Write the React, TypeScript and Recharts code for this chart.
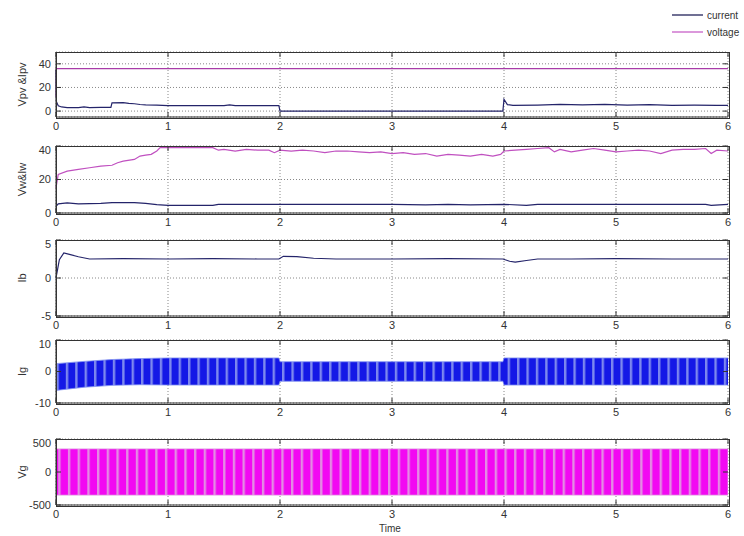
import { ComposedChart, Line, Area, XAxis, YAxis, CartesianGrid } from 'recharts';

const xTicks = [0, 1, 2, 3, 4, 5, 6];

// Vpv & Ipv
const pvTime = [0, 0.004, 0.02, 0.05, 0.1, 0.2, 0.25, 0.3, 0.4, 0.49, 0.5, 0.6, 0.65, 0.7, 0.75, 0.8, 0.9, 1.0, 1.5, 1.55, 1.6, 1.99, 2.0, 3.99, 4.0, 4.03, 4.08, 4.3, 4.5, 4.7, 4.9, 5.1, 5.3, 5.5, 5.7, 5.9, 6.0];
const pvCurrent = [35, 8, 4.5, 3.5, 3.0, 3.0, 3.6, 3.0, 3.2, 3.2, 7.0, 7.2, 6.5, 6.2, 5.6, 5.2, 5.0, 4.6, 4.6, 5.2, 4.6, 4.6, 0, 0, 10, 5.5, 4.8, 5.0, 5.6, 5.2, 5.6, 5.0, 5.4, 4.8, 5.0, 4.8, 4.8];
const pvVoltTime = [0, 0.003, 6];
const pvVoltage = [12, 36, 36];

// Vw & Iw
const wVoltTime = [0, 0.02, 0.1, 0.2, 0.3, 0.4, 0.5, 0.55, 0.6, 0.7, 0.75, 0.8, 0.85, 0.9, 0.93, 1.0, 1.4, 1.45, 1.5, 1.6, 1.7, 1.8, 1.9, 1.95, 2.0, 2.1, 2.2, 2.3, 2.4, 2.5, 2.6, 2.7, 2.8, 2.9, 3.0, 3.1, 3.2, 3.3, 3.4, 3.5, 3.6, 3.7, 3.8, 3.9, 3.97, 4.0, 4.1, 4.2, 4.3, 4.4, 4.45, 4.5, 4.6, 4.7, 4.8, 4.9, 5.0, 5.1, 5.2, 5.3, 5.4, 5.5, 5.6, 5.7, 5.8, 5.85, 5.9, 6.0];
const wVoltage = [15, 23, 25, 26, 27, 28, 28.5, 30, 31, 32, 34, 34.5, 35, 37, 39, 39, 39, 37.5, 38, 37, 38, 37.5, 37.5, 36, 37.5, 37, 37.5, 37, 36, 37, 37, 36.5, 36, 36.5, 35.5, 36, 35, 35.5, 34, 35, 34.5, 34, 35, 34, 35, 37, 37.5, 38, 38.5, 39, 36.5, 38, 36.5, 37.5, 38.5, 37.5, 36.5, 37, 37.5, 37, 35.5, 37.5, 38, 38, 38.5, 35.5, 37.5, 37];
const wCurrTime = [0, 0.02, 0.1, 0.2, 0.4, 0.5, 0.7, 0.8, 0.9, 1.0, 1.4, 1.45, 2.0, 2.5, 3.0, 3.3, 3.5, 3.7, 4.0, 4.2, 4.3, 5.0, 5.8, 5.85, 6.0];
const wCurrent = [4, 5.5, 6, 5.5, 5.8, 6.2, 6.2, 5.8, 5, 4.6, 4.6, 5.2, 5.2, 5.2, 5.2, 4.8, 5.2, 4.8, 5.2, 4.5, 5.2, 5.2, 5.2, 4.6, 5.2];

// Ib
const ibTime = [0, 0.03, 0.07, 0.12, 0.2, 0.3, 0.6, 1.0, 1.4, 1.8, 1.99, 2.03, 2.15, 2.3, 2.5, 3.0, 3.5, 3.99, 4.05, 4.1, 4.2, 4.3, 4.6, 5.0, 5.5, 6.0];
const ib = [0, 2.4, 3.3, 3.1, 2.8, 2.5, 2.55, 2.5, 2.55, 2.5, 2.5, 2.85, 2.8, 2.6, 2.5, 2.5, 2.55, 2.5, 2.2, 2.1, 2.3, 2.5, 2.5, 2.55, 2.5, 2.5];

// Ig envelope (oscillation band)
const igTime = [0, 0.25, 0.5, 0.75, 1.0, 1.99, 2.0, 3.99, 4.0, 6.0];
const igHigh = [2.5, 3.2, 3.8, 4.1, 4.3, 4.3, 3.1, 3.1, 4.3, 4.3];
const igLow = [-6, -5, -4.4, -4.2, -4.3, -4.3, -3.1, -3.1, -4.3, -4.3];

// Vg envelope
const vgTime = [0, 6];
const vgHigh = [350, 350];
const vgLow = [-350, -350];

const rows = (t: number[], v: number[]) => t.map((x, i) => ({ t: x, v: v[i] }));
const bandRows = (t: number[], lo: number[], hi: number[]) => t.map((x, i) => ({ t: x, band: [lo[i], hi[i]] }));

const FONT = '"Liberation Sans Narrow", "Liberation Sans", Arial, sans-serif';
const tickStyle = { fill: '#333', fontSize: 11, fontFamily: FONT };
const PLOT_L = 56;
const PLOT_W = 672;

const frameLine = (key: string, data: any[]) => (
  <Line key={key} type="linear" data={data} dataKey="v" stroke="#333" strokeWidth={1} dot={false}
    isAnimationActive={false} legendType="none" />
);

function Panel({ top, height, domain, ticks, label, children }: any) {
  const [lo, hi] = domain;
  const dy = (5 / height) * (hi - lo); // 5px inward tick, in data units
  const dx = (5 / PLOT_W) * 6;
  return (
    <>
      <div style={{ position: 'absolute', left: 0, top: top - 2 }}>
        <ComposedChart width={744} height={height + 18} margin={{ top: 2, right: 16, bottom: 0, left: 14 }}>
          <defs>
            <pattern id="igStripes" patternUnits="userSpaceOnUse" width="9.4" height="4">
              <rect width="9.4" height="4" fill="#1418e6" />
              <rect x="0" width="2.4" height="4" fill="#7d88ee" />
            </pattern>
            <pattern id="vgStripes" patternUnits="userSpaceOnUse" width="9.7" height="4">
              <rect width="9.7" height="4" fill="#f208f2" />
              <rect x="0" width="2.4" height="4" fill="#e38be3" />
            </pattern>
          </defs>
          <CartesianGrid stroke="#888" strokeDasharray="1 2" />
          <XAxis type="number" dataKey="t" domain={[0, 6]} ticks={xTicks}
            height={16} tickSize={-5} tickMargin={10} tickLine={false} stroke="#333" tick={tickStyle} />
          <YAxis type="number" domain={domain} ticks={ticks} width={42}
            tickSize={-5} tickMargin={10} tickLine={false} stroke="#333" tick={tickStyle}
            label={{ value: label, angle: -90, position: 'insideLeft', offset: 8, style: { textAnchor: 'middle', fill: '#333', fontSize: 11, fontFamily: FONT } }} />
          {children}
          {xTicks.map((t) => frameLine('tt' + t, [{ t, v: hi }, { t, v: hi - dy }]))}
          {xTicks.map((t) => frameLine('bt' + t, [{ t, v: lo }, { t, v: lo + dy }]))}
          {ticks.map((v: number) => frameLine('lt' + v, [{ t: 0, v }, { t: dx, v }]))}
          {ticks.map((v: number) => frameLine('rt' + v, [{ t: 6 - dx, v }, { t: 6, v }]))}
        </ComposedChart>
      </div>
      {/* axes box */}
      <div style={{ position: 'absolute', left: PLOT_L - 0.5, top: top - 0.5, width: PLOT_W, height, border: '1px solid #333', pointerEvents: 'none' }} />
    </>
  );
}

const lineProps = { type: 'linear' as const, dataKey: 'v', dot: false, isAnimationActive: false, strokeWidth: 1.2 };

export default function App() {
  return (
    <div style={{ position: 'absolute', left: 0, top: 0, width: 744, height: 536, background: '#fff', overflow: 'hidden' }}>
      <svg width={744} height={40} style={{ position: 'absolute', left: 0, top: 0 }}>
        <line x1={672} x2={703} y1={15} y2={15} stroke="#23235a" strokeWidth={1.3} />
        <text x={707} y={18.5} fontSize={10} fill="#333" fontFamily={FONT}>current</text>
        <line x1={672} x2={703} y1={32} y2={32} stroke="#c860c8" strokeWidth={1.3} />
        <text x={707} y={35.5} fontSize={10} fill="#333" fontFamily={FONT}>voltage</text>
      </svg>

      <Panel top={52} height={65} domain={[-5, 50]} ticks={[0, 20, 40]} label="Vpv &Ipv">
        <Line {...lineProps} data={rows(pvVoltTime, pvVoltage)} stroke="#a83ca8" />
        <Line {...lineProps} data={rows(pvTime, pvCurrent)} stroke="#24246a" />
      </Panel>

      <Panel top={146} height={67} domain={[0, 40]} ticks={[0, 20, 40]} label="Vw&Iw">
        <Line {...lineProps} data={rows(wVoltTime, wVoltage)} stroke="#c050c0" />
        <Line {...lineProps} data={rows(wCurrTime, wCurrent)} stroke="#24246a" />
      </Panel>

      <Panel top={240} height={76} domain={[-5, 5]} ticks={[-5, 0, 5]} label="Ib">
        <Line {...lineProps} data={rows(ibTime, ib)} stroke="#24246a" />
      </Panel>

      <Panel top={340} height={63} domain={[-10, 10]} ticks={[-10, 0, 10]} label="Ig">
        <Area type="linear" data={bandRows(igTime, igLow, igHigh)} dataKey="band" stroke="#8090f0" strokeWidth={0.8}
          fill="url(#igStripes)" fillOpacity={1} isAnimationActive={false} />
      </Panel>

      <Panel top={439} height={66} domain={[-500, 500]} ticks={[-500, 0, 500]} label="Vg">
        <Area type="linear" data={bandRows(vgTime, vgLow, vgHigh)} dataKey="band" stroke="#e090e0" strokeWidth={0.8}
          fill="url(#vgStripes)" fillOpacity={1} isAnimationActive={false} />
      </Panel>

      <div style={{ position: 'absolute', left: 360, width: 60, top: 523, textAlign: 'center', fontSize: 10, color: '#333', fontFamily: FONT }}>
        Time
      </div>
    </div>
  );
}
